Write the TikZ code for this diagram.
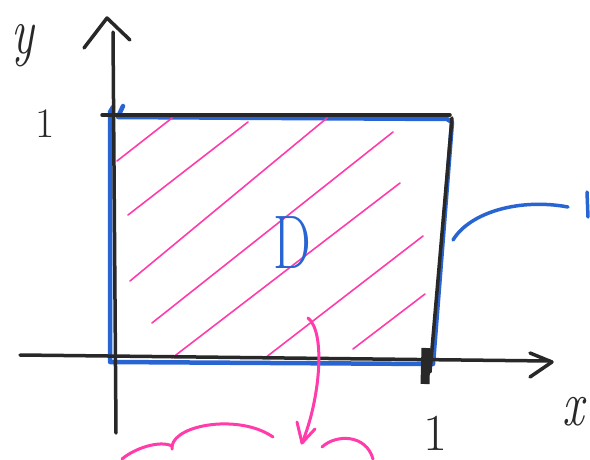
\documentclass[tikz,border=0pt]{standalone}
\usepackage{graphicx}
\definecolor{ink}{RGB}{40,40,40}
\definecolor{bluepen}{RGB}{40,100,210}
\definecolor{pinkpen}{RGB}{255,60,170}
\begin{document}
\begin{tikzpicture}[x=1pt,y=-1pt,
  blackline/.style={draw=ink,line width=3.5pt,line cap=round,line join=round},
  blueline/.style={draw=bluepen,line width=4.5pt,line cap=round,line join=round},
  hatchline/.style={draw=pinkpen,line width=1.6pt,line cap=round},
  pinkline/.style={draw=pinkpen,line width=3pt,line cap=round,line join=round},
  lbl/.style={inner sep=0pt,text=ink}]
\useasboundingbox (0,0) rectangle (590,459);
% coordinates
\coordinate (ybot) at (116,433);
\coordinate (ytop) at (113,32);
\coordinate (xleft) at (20,355);
\coordinate (xright) at (550,361);
\coordinate (tl) at (102,115);
\coordinate (tr) at (450,115);
\coordinate (rtop) at (452,118);
\coordinate (rbot) at (430,372);
% blue boundary
\draw[blueline] (123,106) -- (118,117) -- (447,119) -- (452,122) -- (433,364) -- (110,362) -- (110,112) -- (113,107);
% pink hatch
\draw[hatchline] (117,161) -- (172,118);
\draw[hatchline] (128,215) -- (248,122);
\draw[hatchline] (130,281) -- (327,118);
\draw[hatchline] (152,323) -- (393,132);
\draw[hatchline] (172,358) -- (400,183);
\draw[hatchline] (265,358) -- (423,236);
\draw[hatchline] (353,349) -- (425,294);
% black axes and rectangle
\draw[blackline] (ybot) -- (ytop);
\draw[blackline] (84,48) -- (107,18) -- (130,40);
\draw[blackline] (xleft) -- (xright);
\draw[blackline] (530,353) -- (552,362) -- (530,377);
\draw[blackline] (tl) -- (tr);
\draw[blackline] (rtop) -- (rbot);
\draw[draw=ink,line width=9pt] (426,348) -- (425,384);
% blue label line
\coordinate (bstart) at (453,240);
\coordinate (bend) at (568,207);
\draw[blueline,line width=3.5pt] (bstart) .. controls (470,212) and (520,198) .. (bend);
\draw[blueline,line width=3.5pt] (587,192) -- (588,217);
% pink arrow
\coordinate (pstart) at (308,318);
\coordinate (pend) at (302,443);
\draw[pinkline] (pstart) .. controls (326,332) and (320,400) .. (pend);
\draw[pinkline] (297,422) -- (pend) -- (315,429);
% cloud
\draw[pinkline] (122,459) .. controls (135,448) and (160,440) .. (172,446) -- (172,449);
\draw[pinkline] (172,446) .. controls (176,424) and (240,414) .. (273,437);
\draw[pinkline] (322,447) .. controls (336,434) and (366,434) .. (373,459);
% labels
\node[lbl] (ylab) at (23,46) {\scalebox{0.72}[1]{\fontsize{66}{66}\selectfont\itshape y}};
\node[lbl] (one1) at (45,124) {\fontsize{42}{42}\selectfont 1};
\node[lbl] (one2) at (435,433) {\fontsize{52}{52}\selectfont 1};
\node[lbl] (xlab) at (573,412) {\scalebox{0.75}[1]{\fontsize{64}{64}\selectfont\itshape x}};
\node[lbl,text=bluepen] (dlab) at (292,243) {\scalebox{0.7}[1]{\fontsize{76}{76}\selectfont D}};
\end{tikzpicture}
\end{document}
